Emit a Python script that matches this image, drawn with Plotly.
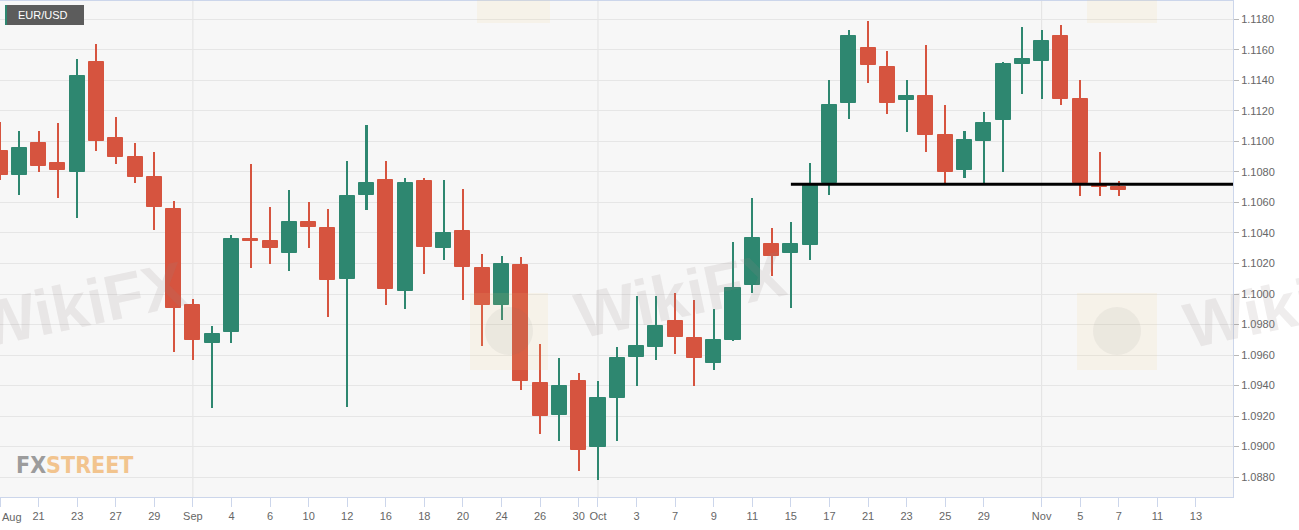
import numpy as np
import plotly.graph_objects as go

# ---------------- data (EUR/USD daily) ----------------
dates = [
    "2019-08-19", "2019-08-20", "2019-08-21", "2019-08-22", "2019-08-23",
    "2019-08-26", "2019-08-27", "2019-08-28", "2019-08-29", "2019-08-30",
    "2019-09-02", "2019-09-03", "2019-09-04", "2019-09-05", "2019-09-06",
    "2019-09-09", "2019-09-10", "2019-09-11", "2019-09-12", "2019-09-13",
    "2019-09-16", "2019-09-17", "2019-09-18", "2019-09-19", "2019-09-20",
    "2019-09-23", "2019-09-24", "2019-09-25", "2019-09-26", "2019-09-27",
    "2019-09-30", "2019-10-01", "2019-10-02", "2019-10-03", "2019-10-04",
    "2019-10-07", "2019-10-08", "2019-10-09", "2019-10-10", "2019-10-11",
    "2019-10-14", "2019-10-15", "2019-10-16", "2019-10-17", "2019-10-18",
    "2019-10-21", "2019-10-22", "2019-10-23", "2019-10-24", "2019-10-25",
    "2019-10-28", "2019-10-29", "2019-10-30", "2019-10-31", "2019-11-01",
    "2019-11-04", "2019-11-05", "2019-11-06", "2019-11-07",
]
open_ = [
    1.1094, 1.1078, 1.1099, 1.1086, 1.1080,
    1.1152, 1.1102, 1.1090, 1.1077, 1.1056,
    1.0993, 1.0968, 1.0975, 1.1036, 1.1035,
    1.1027, 1.1047, 1.1043, 1.1010, 1.1065,
    1.1075, 1.1002, 1.1074, 1.1030, 1.1041,
    1.1017, 1.0993, 1.1019, 1.0942, 1.0921,
    1.0943, 1.0900, 1.0932, 1.0959, 1.0965,
    1.0982, 1.0971, 1.0955, 1.0970, 1.1006,
    1.1033, 1.1027, 1.1032, 1.1073, 1.1125,
    1.1161, 1.1149, 1.1127, 1.1130, 1.1104,
    1.1081, 1.1100, 1.1114, 1.1151, 1.1153,
    1.1169, 1.1128, 1.1071, 1.1070,
]
high = [
    1.1113, 1.1107, 1.1107, 1.1112, 1.1154,
    1.1164, 1.1116, 1.1099, 1.1093, 1.1061,
    1.0997, 1.0979, 1.1039, 1.1085, 1.1057,
    1.1068, 1.1060, 1.1056, 1.1087, 1.1111,
    1.1087, 1.1076, 1.1076, 1.1075, 1.1069,
    1.1026, 1.1025, 1.1024, 1.0967, 1.0958,
    1.0948, 1.0943, 1.0965, 1.0999, 1.0999,
    1.1001, 1.0996, 1.0990, 1.1034, 1.1063,
    1.1043, 1.1047, 1.1086, 1.1140, 1.1173,
    1.1179, 1.1159, 1.1140, 1.1163, 1.1124,
    1.1107, 1.1119, 1.1152, 1.1175, 1.1173,
    1.1176, 1.1140, 1.1093, 1.1074,
]
low = [
    1.1075, 1.1065, 1.1080, 1.1063, 1.1050,
    1.1094, 1.1085, 1.1073, 1.1042, 1.0962,
    1.0957, 1.0925, 1.0968, 1.1017, 1.1020,
    1.1015, 1.1030, 1.0985, 1.0926, 1.1055,
    1.0993, 1.0990, 1.1013, 1.1022, 1.0996,
    1.0966, 1.0983, 1.0937, 1.0908, 1.0904,
    1.0884, 1.0878, 1.0904, 1.0940, 1.0957,
    1.0961, 1.0940, 1.0950, 1.0969, 1.1001,
    1.1012, 1.0991, 1.1022, 1.1065, 1.1115,
    1.1138, 1.1118, 1.1106, 1.1093, 1.1073,
    1.1076, 1.1073, 1.1080, 1.1131, 1.1128,
    1.1124, 1.1064, 1.1064, 1.1064,
]
close = [
    1.1078, 1.1096, 1.1084, 1.1081, 1.1143,
    1.1100, 1.1090, 1.1077, 1.1057, 1.0991,
    1.0970, 1.0974, 1.1036, 1.1035, 1.1030,
    1.1047, 1.1044, 1.1009, 1.1064, 1.1073,
    1.1003, 1.1073, 1.1031, 1.1040, 1.1018,
    1.0993, 1.1020, 1.0943, 1.0920, 1.0940,
    1.0898, 1.0932, 1.0958, 1.0966, 1.0979,
    1.0972, 1.0958, 1.0970, 1.1004, 1.1037,
    1.1025, 1.1033, 1.1072, 1.1124, 1.1169,
    1.1150, 1.1125, 1.1130, 1.1104, 1.1080,
    1.1101, 1.1112, 1.1151, 1.1154, 1.1166,
    1.1128, 1.1073, 1.1070, 1.1068,
]

tick_dates = [
    "2019-08-19", "2019-08-21", "2019-08-23", "2019-08-27", "2019-08-29",
    "2019-09-02", "2019-09-04", "2019-09-06", "2019-09-10", "2019-09-12",
    "2019-09-16", "2019-09-18", "2019-09-20", "2019-09-24", "2019-09-26",
    "2019-09-30", "2019-10-01", "2019-10-03", "2019-10-07", "2019-10-09",
    "2019-10-11", "2019-10-15", "2019-10-17", "2019-10-21", "2019-10-23",
    "2019-10-25", "2019-10-29", "2019-11-01", "2019-11-05", "2019-11-07",
    "2019-11-11", "2019-11-13",
]
tick_labels = [
    "Aug", "21", "23", "27", "29", "Sep", "4", "6", "10", "12", "16", "18",
    "20", "24", "26", "30", "Oct", "3", "7", "9", "11", "15", "17", "21",
    "23", "25", "29", "Nov", "5", "7", "11", "13",
]
month_starts = ["2019-09-02", "2019-10-01", "2019-11-01"]

support_level = 1.1072
support_start = "2019-10-15"
x_end_days = 63.92          # visible trading-day span of the axis
y_range = [1.0867, 1.1192]

# ---------------- styling ----------------
UP = "#2e8770"
DOWN = "#d6543f"
W, H = 1299, 530
PX_L, PX_R, PX_T, PX_B = 0, 1233, 1, 497


def tidx(d):
    return int(np.busday_count(np.datetime64(dates[0]), np.datetime64(d)))


def pxx(x):
    return (x - PX_L) / (PX_R - PX_L)


def pxy(y):
    return (PX_B - y) / (PX_B - PX_T)


xs = [tidx(d) for d in dates]
cols = [UP if c >= o else DOWN for o, c in zip(open_, close)]
body_base = [min(o, c) for o, c in zip(open_, close)]
body_h = [max(abs(c - o), 0.00004) for o, c in zip(open_, close)]
wick_h = [h - l for h, l in zip(high, low)]

fig = go.Figure()
fig.add_trace(go.Bar(x=xs, y=wick_h, base=low, width=0.105,
                     marker=dict(color=cols, line=dict(width=0)),
                     hoverinfo="skip"))
fig.add_trace(go.Bar(x=xs, y=body_h, base=body_base, width=0.78,
                     marker=dict(color=cols, line=dict(color=cols, width=1)),
                     hoverinfo="skip"))
fig.add_trace(go.Scatter(x=[tidx(support_start), x_end_days],
                         y=[support_level, support_level], mode="lines",
                         line=dict(color="#000000", width=3),
                         hoverinfo="skip"))

shapes = []
for m in month_starts:
    shapes.append(dict(type="line", xref="x", yref="paper", x0=tidx(m), x1=tidx(m),
                       y0=0, y1=1, line=dict(color="#e2e2e2", width=1), layer="below"))

# watermark logo tiles (pale yellow)
for (x0, y0, x1, y1) in [(470, 293, 548, 370), (1077, 293, 1157, 370),
                         (477, -20, 550, 23), (1087, -20, 1157, 23)]:
    shapes.append(dict(type="rect", xref="paper", yref="paper",
                       x0=pxx(x0), x1=pxx(x1), y0=pxy(y1), y1=pxy(y0),
                       fillcolor="rgba(250,214,130,0.11)", line=dict(width=0),
                       layer="above"))
for (cx, cy, r) in [(509, 331, 24), (1117, 331, 24)]:
    shapes.append(dict(type="circle", xref="paper", yref="paper",
                       x0=pxx(cx - r), x1=pxx(cx + r), y0=pxy(cy + r), y1=pxy(cy - r),
                       fillcolor="rgba(120,110,110,0.08)", line=dict(width=0),
                       layer="above"))

# EUR/USD label box
shapes.append(dict(type="rect", xref="paper", yref="paper",
                   x0=pxx(5), x1=pxx(84), y0=pxy(25), y1=pxy(5),
                   fillcolor="#5c5c5c", line=dict(width=0), layer="above"))
shapes.append(dict(type="rect", xref="paper", yref="paper",
                   x0=pxx(5), x1=pxx(7), y0=pxy(25), y1=pxy(5),
                   fillcolor=UP, line=dict(width=0), layer="above"))

annotations = [
    dict(text="EUR/USD", xref="paper", yref="paper", x=pxx(16), y=pxy(15),
         xanchor="left", yanchor="middle", showarrow=False,
         font=dict(family="Liberation Sans, Arial, sans-serif", size=11, color="#ffffff")),
    dict(text="Aug", xref="paper", yref="paper", x=0, y=pxy(517),
         xanchor="left", yanchor="middle", showarrow=False,
         font=dict(family="Liberation Sans, Arial, sans-serif", size=11, color="#666666")),
    dict(text="<span style='color:#9c9c9c'>FX</span><span style='color:#f2c48e'>STREET</span>",
         xref="paper", yref="paper", x=pxx(14), y=pxy(465),
         xanchor="left", yanchor="middle", showarrow=False,
         font=dict(family="Liberation Sans Narrow, DejaVu Sans Condensed, sans-serif",
                   size=23, weight="bold", color="#9c9c9c")),
]
for (cx, cy) in [(80, 305), (680, 295), (1289, 305)]:
    annotations.append(dict(text="WikiFX", xref="paper", yref="paper",
                            x=pxx(cx), y=pxy(cy), xanchor="center", yanchor="middle",
                            showarrow=False, textangle=-12,
                            font=dict(family="Liberation Sans, Arial, sans-serif",
                                      size=64, weight="bold",
                                      color="rgba(150,132,132,0.15)")))

fig.update_layout(
    width=W, height=H,
    margin=dict(l=PX_L, r=W - PX_R, t=PX_T, b=H - PX_B, autoexpand=False),
    paper_bgcolor="#ffffff", plot_bgcolor="#f7f7f7",
    showlegend=False, barmode="overlay", bargap=0,
    shapes=shapes, annotations=annotations,
    font=dict(family="Liberation Sans, Arial, sans-serif", size=11, color="#666666"),
)
fig.update_xaxes(
    range=[0, x_end_days], tickmode="array",
    tickvals=[tidx(d) for d in tick_dates],
    ticktext=["" if t == "Aug" else t for t in tick_labels],
    ticks="outside", ticklen=9, tickcolor="#ccd6eb", tickwidth=1,
    showgrid=False, zeroline=False,
    showline=True, linecolor="#ccd6eb", linewidth=1, mirror=True,
    tickfont=dict(size=11, color="#666666"), automargin=False,
)
fig.update_yaxes(
    range=y_range, side="right", tick0=1.088, dtick=0.002, tickformat=".4f",
    ticks="outside", ticklen=5, tickcolor="#b8b8b8", tickwidth=1,
    showgrid=True, gridcolor="#e6e6e6", gridwidth=1, zeroline=False,
    showline=True, linecolor="#ccd6eb", linewidth=1, mirror=True,
    tickfont=dict(size=11, color="#666666"), automargin=False,
)

fig.write_html(
    "out.html",
    config={"displayModeBar": False},
    post_script="document.body.style.margin='0';document.body.style.overflow='hidden';",
)
